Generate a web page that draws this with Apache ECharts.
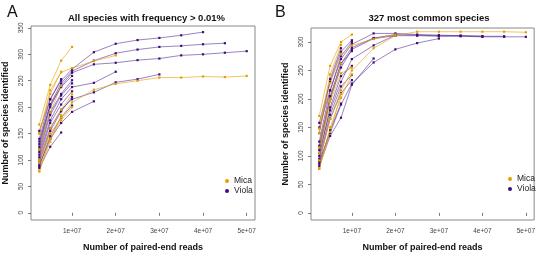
<!DOCTYPE html>
<html>
<head>
<meta charset="utf-8">
<script src="https://cdn.jsdelivr.net/npm/echarts@6/dist/echarts.min.js"></script>
<style>
  html, body { margin: 0; padding: 0; background: #fff; }
  #chart { width: 538px; height: 257px; }
</style>
</head>
<body>
<div id="chart"></div>
<script>
// sequencing depths (paired-end reads) at which each sample was subsampled
var depths = [2.5e6, 5e6, 7.5e6, 1e7, 1.5e7, 2e7, 2.5e7, 3e7, 3.5e7, 4e7, 4.5e7, 5e7];
var xTicks = [1e7, 2e7, 3e7, 4e7, 5e7];
var yTicksAll = [0, 50, 100, 150, 200, 250, 300, 350];
var yTicksCommon = [0, 50, 100, 150, 200, 250, 300];

// panel A: all species with frequency > 0.01%
var micaAll = [
  [95, 150, 180, 209, 233, 244, 250, 256, 256, 258, 257, 259],
  [150, 232, 266, 274, 287, 298],
  [167, 242, 288, 314],
  [100, 160, 195, 224],
  [80, 140, 175, 200],
  [150, 225, 267],
  [78, 135, 185],
  [120, 190, 240]
];
var violaAll = [
  [155, 215, 250, 272, 304, 320, 327, 331, 336, 342],
  [130, 205, 245, 268, 288, 302, 309, 314, 316, 319, 321],
  [125, 200, 240, 265, 281, 284, 289, 292, 298, 300, 303, 306],
  [100, 160, 195, 215, 228, 247, 253, 262],
  [110, 175, 215, 238, 246, 267],
  [90, 140, 170, 191, 211],
  [135, 205, 238, 259],
  [120, 190, 225, 251],
  [115, 185, 222, 245],
  [105, 170, 205, 230],
  [95, 155, 192, 219],
  [88, 145, 180, 203],
  [85, 125, 152],
  [140, 215, 253]
];

// panel B: 327 most common species (same samples, same order)
var micaCommon = [
  [92, 165, 215, 250, 289, 311, 318, 318, 318, 318, 318, 317],
  [140, 228, 278, 294, 305, 313],
  [170, 258, 300, 313],
  [105, 195, 245, 255],
  [78, 150, 202, 243],
  [148, 243, 295],
  [77, 142, 209],
  [115, 200, 262]
];
var violaCommon = [
  [150, 215, 270, 296, 315, 315, 313, 312, 311, 310],
  [118, 205, 262, 290, 307, 313, 312, 311, 311, 310, 310],
  [115, 200, 255, 287, 306, 311, 311, 310, 310, 309, 309, 309],
  [90, 140, 190, 227, 264, 287, 298, 306],
  [105, 180, 230, 270, 294, 312],
  [82, 135, 167, 225, 271],
  [158, 230, 283, 303],
  [125, 215, 275, 300],
  [110, 200, 262, 284],
  [100, 185, 240, 258],
  [95, 172, 222, 242],
  [90, 165, 210, 233],
  [86, 145, 192],
  [140, 235, 289]
];

var FONT = '"Liberation Sans", Arial, Helvetica, sans-serif';
var micaPoint = '#e69f00', micaLine = 'rgba(230,159,0,0.6)';
var violaPoint = '#3d0f78', violaLine = 'rgba(72,30,140,0.55)';

function makeSeries(list, name, panel, pointCol, lineCol){
  return list.map(function(vals){
    return {
      type: 'line',
      name: name,
      xAxisIndex: panel,
      yAxisIndex: panel,
      data: vals.map(function(v, i){ return [depths[i], v]; }),
      symbol: 'rect',
      symbolSize: 2.2,
      showSymbol: true,
      lineStyle: { width: 1, color: lineCol },
      itemStyle: { color: pointCol },
      emphasis: { disabled: true },
      silent: true
    };
  });
}

function xAxisFor(panel){
  return {
    type: 'value', gridIndex: panel,
    min: 0.6e6, max: 5.19e7,
    splitLine: { show: false },
    axisLine: { show: false },
    axisTick: { show: true, length: 3, customValues: xTicks, lineStyle: { color: '#777' } },
    axisLabel: {
      customValues: xTicks, margin: 8, fontSize: 6.5, color: '#444', fontFamily: FONT,
      formatter: function(v){ return Math.round(v / 1e7) + 'e+07'; }
    },
    name: 'Number of paired-end reads', nameLocation: 'middle', nameGap: 23,
    nameTextStyle: { fontSize: 9, fontWeight: 'bold', color: '#111', fontFamily: FONT }
  };
}

function yAxisFor(panel, min, max, ticks){
  return {
    type: 'value', gridIndex: panel,
    min: min, max: max,
    splitLine: { show: false },
    axisLine: { show: false },
    axisTick: { show: true, length: 3, customValues: ticks, lineStyle: { color: '#777' } },
    axisLabel: { customValues: ticks, rotate: 90, margin: 6, fontSize: 6.5, color: '#444', fontFamily: FONT },
    name: 'Number of species identified', nameLocation: 'middle', nameGap: 21,
    nameTextStyle: { fontSize: 9, fontWeight: 'bold', color: '#111', fontFamily: FONT }
  };
}

function legendFor(left, top){
  return {
    orient: 'vertical', left: left, top: top,
    itemWidth: 4, itemHeight: 4, itemGap: 0, icon: 'circle',
    selectedMode: false,
    data: [
      { name: 'Mica', itemStyle: { color: micaPoint } },
      { name: 'Viola', itemStyle: { color: violaPoint } }
    ],
    textStyle: { fontSize: 8.5, lineHeight: 10, color: '#222', fontFamily: FONT }
  };
}

var series = [].concat(
  makeSeries(violaAll, 'Viola', 0, violaPoint, violaLine),
  makeSeries(micaAll, 'Mica', 0, micaPoint, micaLine),
  makeSeries(violaCommon, 'Viola', 1, violaPoint, violaLine),
  makeSeries(micaCommon, 'Mica', 1, micaPoint, micaLine)
);

var option = {
  animation: false,
  backgroundColor: '#fff',
  title: [
    { text: 'A', left: 2, top: 0, textStyle: { fontSize: 16, fontWeight: 'normal', color: '#111', fontFamily: FONT } },
    { text: 'B', left: 270, top: 0, textStyle: { fontSize: 16, fontWeight: 'normal', color: '#111', fontFamily: FONT } },
    { text: 'All species with frequency > 0.01%', left: 141.5, top: 8, textAlign: 'center',
      textStyle: { fontSize: 9.5, fontWeight: 'bold', color: '#111', fontFamily: FONT } },
    { text: '327 most common species', left: 424, top: 8, textAlign: 'center',
      textStyle: { fontSize: 9.5, fontWeight: 'bold', color: '#111', fontFamily: FONT } }
  ],
  legend: [legendFor(220, 171), legendFor(503, 169)],
  grid: [
    { left: 28.5, top: 26, width: 226.5, height: 200, show: true, borderColor: '#888', borderWidth: 1, backgroundColor: 'transparent' },
    { left: 311, top: 28, width: 226, height: 200, show: true, borderColor: '#888', borderWidth: 1, backgroundColor: 'transparent' }
  ],
  xAxis: [xAxisFor(0), xAxisFor(1)],
  yAxis: [yAxisFor(0, -13.6, 353.6, yTicksAll), yAxisFor(1, -12.5, 324.5, yTicksCommon)],
  series: series
};

var chart = echarts.init(document.getElementById('chart'), null, { renderer: 'canvas' });
chart.setOption(option);
</script>
</body>
</html>
